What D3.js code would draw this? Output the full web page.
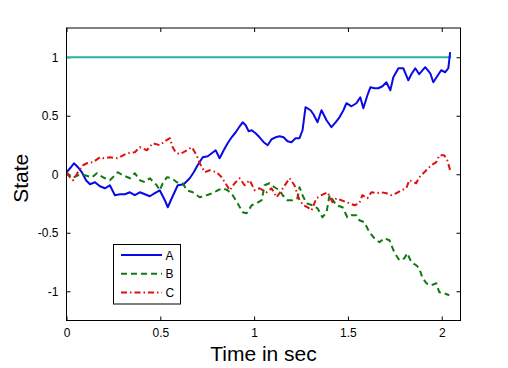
<!DOCTYPE html>
<html>
<head>
<meta charset="utf-8">
<script src="https://cdn.jsdelivr.net/npm/d3@7"></script>
<style>
  html, body { margin: 0; padding: 0; background: #ffffff; }
  svg { display: block; font-family: "Liberation Sans", Arial, sans-serif; }
</style>
</head>
<body>
<svg id="chart" width="508" height="368"></svg>
<script>
// ---- data ----
const seriesNames = ["A", "B", "C"];
const xTicks = [0, 0.5, 1, 1.5, 2];
const yTicks = [-1, -0.5, 0, 0.5, 1];
const xLabel = "Time in sec";
const yLabel = "State";

const tRef = [0, 2.05];
const vRef = [1, 1];

const tA = [0,0.019,0.040,0.061,0.082,0.104,0.125,0.152,0.178,0.205,0.231,0.258,0.285,0.311,0.338,0.364,0.391,0.418,0.444,0.471,0.497,0.524,0.540,0.561,0.593,0.625,0.657,0.678,0.699,0.726,0.753,0.774,0.795,0.816,0.838,0.859,0.880,0.902,0.923,0.939,0.955,0.971,0.987,1.008,1.029,1.051,1.072,1.093,1.114,1.136,1.157,1.178,1.199,1.221,1.242,1.258,1.274,1.301,1.316,1.338,1.359,1.386,1.412,1.434,1.455,1.476,1.492,1.519,1.545,1.566,1.582,1.604,1.620,1.641,1.662,1.684,1.705,1.726,1.742,1.769,1.795,1.822,1.838,1.859,1.880,1.912,1.939,1.955,1.976,1.997,2.019,2.035,2.045];
const vA = [0.017,0.051,0.094,0.060,0.017,-0.051,-0.085,-0.068,-0.103,-0.120,-0.094,-0.179,-0.171,-0.171,-0.154,-0.179,-0.154,-0.171,-0.188,-0.162,-0.137,-0.222,-0.282,-0.205,-0.094,-0.085,-0.034,0.017,0.077,0.145,0.154,0.179,0.205,0.137,0.205,0.265,0.316,0.359,0.410,0.444,0.419,0.368,0.376,0.350,0.316,0.274,0.248,0.299,0.316,0.325,0.316,0.282,0.274,0.308,0.308,0.376,0.573,0.547,0.513,0.444,0.547,0.462,0.402,0.444,0.487,0.547,0.607,0.581,0.607,0.658,0.564,0.675,0.744,0.735,0.735,0.752,0.786,0.718,0.829,0.906,0.906,0.803,0.855,0.906,0.855,0.915,0.863,0.786,0.838,0.889,0.872,0.906,1.043];

const tB = [0,0.029,0.061,0.098,0.136,0.162,0.194,0.231,0.258,0.274,0.301,0.338,0.364,0.391,0.418,0.444,0.481,0.497,0.513,0.535,0.561,0.588,0.620,0.641,0.673,0.710,0.747,0.779,0.806,0.832,0.859,0.886,0.912,0.939,0.960,0.987,1.013,1.040,1.056,1.082,1.109,1.136,1.152,1.178,1.205,1.231,1.242,1.258,1.279,1.311,1.338,1.364,1.386,1.402,1.439,1.471,1.497,1.519,1.545,1.561,1.588,1.614,1.641,1.668,1.694,1.721,1.747,1.774,1.801,1.816,1.838,1.864,1.880,1.896,1.918,1.944,1.971,1.987,2.013,2.040];
const vB = [0.017,-0.034,-0.009,-0.009,-0.026,0.009,-0.026,-0.051,-0.009,0.017,-0.009,-0.034,0.009,-0.051,-0.068,-0.034,-0.094,-0.137,-0.077,-0.026,-0.034,-0.068,-0.077,-0.137,-0.154,-0.197,-0.179,-0.162,-0.137,-0.120,-0.137,-0.179,-0.248,-0.325,-0.333,-0.265,-0.248,-0.222,-0.094,-0.077,-0.111,-0.137,-0.179,-0.222,-0.222,-0.205,-0.111,-0.179,-0.248,-0.265,-0.291,-0.368,-0.325,-0.179,-0.265,-0.282,-0.368,-0.350,-0.350,-0.393,-0.410,-0.496,-0.547,-0.581,-0.547,-0.564,-0.667,-0.735,-0.718,-0.675,-0.752,-0.778,-0.803,-0.880,-0.932,-0.949,-0.932,-1.009,-1.017,-1.034];

const tC = [0,0.019,0.035,0.061,0.088,0.109,0.141,0.178,0.194,0.231,0.274,0.322,0.364,0.391,0.428,0.460,0.497,0.524,0.551,0.566,0.582,0.604,0.641,0.668,0.694,0.710,0.737,0.763,0.801,0.827,0.854,0.870,0.896,0.923,0.949,0.976,1.003,1.029,1.066,1.093,1.120,1.146,1.189,1.215,1.242,1.263,1.285,1.306,1.332,1.359,1.391,1.418,1.439,1.465,1.492,1.535,1.561,1.577,1.604,1.625,1.652,1.678,1.705,1.731,1.758,1.785,1.811,1.827,1.864,1.880,1.907,1.944,1.971,1.987,2.013,2.029,2.045];
const vC = [0.009,-0.026,-0.051,0.017,0.077,0.094,0.103,0.145,0.137,0.145,0.137,0.179,0.188,0.231,0.205,0.265,0.248,0.282,0.308,0.231,0.188,0.171,0.205,0.231,0.162,0.094,0.017,0.034,0.017,-0.026,-0.094,-0.137,-0.077,-0.034,-0.094,-0.051,-0.137,-0.120,-0.154,-0.120,-0.197,-0.137,-0.034,-0.094,-0.222,-0.265,-0.282,-0.308,-0.205,-0.179,-0.154,-0.239,-0.205,-0.222,-0.239,-0.265,-0.248,-0.179,-0.205,-0.154,-0.162,-0.154,-0.162,-0.179,-0.162,-0.137,-0.120,-0.051,-0.077,-0.026,0.017,0.077,0.103,0.162,0.162,0.120,0.034];

// ---- styling ----
const colors = { ref: "#22b4a8", A: "#0a0ae6", B: "#107a10", C: "#e01010" };
const dashes = { A: null, B: "6,4", C: "6,3,1.5,3" };

const svg = d3.select("#chart");
const W = 508, H = 368;
const m = { left: 66.5, right: 47.5, top: 28, bottom: 47.5 };

const x = d3.scaleLinear().domain([0, 2.1]).range([m.left, W - m.right]);
const y = d3.scaleLinear().domain([-1.25, 1.25]).range([H - m.bottom, m.top]);

svg.append("rect").attr("width", W).attr("height", H).attr("fill", "#ffffff");

// plot background
svg.append("rect")
  .attr("x", x(0)).attr("y", y(1.25))
  .attr("width", x(2.1) - x(0)).attr("height", y(-1.25) - y(1.25))
  .attr("fill", "#ffffff");

const fmt = d => String(d);

// axes with inward ticks on all four sides
const gB = svg.append("g").attr("transform", `translate(0,${y(-1.25)})`)
  .call(d3.axisBottom(x).tickValues(xTicks).tickSizeInner(-4).tickSizeOuter(0).tickPadding(8).tickFormat(fmt));
const gT = svg.append("g").attr("transform", `translate(0,${y(1.25)})`)
  .call(d3.axisTop(x).tickValues(xTicks).tickSizeInner(-4).tickSizeOuter(0).tickFormat(""));
const gL = svg.append("g").attr("transform", `translate(${x(0)},0)`)
  .call(d3.axisLeft(y).tickValues(yTicks).tickSizeInner(-4).tickSizeOuter(0).tickPadding(8).tickFormat(fmt));
const gR = svg.append("g").attr("transform", `translate(${x(2.1)},0)`)
  .call(d3.axisRight(y).tickValues(yTicks).tickSizeInner(-4).tickSizeOuter(0).tickFormat(""));

[gB, gT, gL, gR].forEach(g => {
  g.select(".domain").remove();
  g.selectAll(".tick line").attr("stroke", "#000").attr("stroke-width", 1);
  g.selectAll(".tick text").attr("fill", "#000").style("font-size", "12px")
    .style("font-family", "'Liberation Sans', Arial, sans-serif");
});

// lines
const line = d3.line().x(d => x(d[0])).y(d => y(d[1]));
const zip = (t, v) => t.map((ti, i) => [ti, v[i]]);

svg.append("path").datum(zip(tRef, vRef))
  .attr("d", line).attr("fill", "none")
  .attr("stroke", colors.ref).attr("stroke-width", 2);

const series = [
  { name: seriesNames[0], data: zip(tA, vA) },
  { name: seriesNames[1], data: zip(tB, vB) },
  { name: seriesNames[2], data: zip(tC, vC) }
];

series.forEach(s => {
  svg.append("path").datum(s.data)
    .attr("d", line).attr("fill", "none")
    .attr("stroke", colors[s.name]).attr("stroke-width", 2)
    .attr("stroke-linejoin", "round")
    .attr("stroke-dasharray", dashes[s.name]);
});

// box
svg.append("rect")
  .attr("x", x(0)).attr("y", y(1.25))
  .attr("width", x(2.1) - x(0)).attr("height", y(-1.25) - y(1.25))
  .attr("fill", "none").attr("stroke", "#000").attr("stroke-width", 1);

// axis labels
svg.append("text")
  .attr("x", (x(0) + x(2.1)) / 2).attr("y", 361)
  .attr("text-anchor", "middle").style("font-size", "21px").attr("fill", "#000")
  .text(xLabel);

svg.append("text")
  .attr("transform", `translate(28,${(y(-1.25) + y(1.25)) / 2 + 4}) rotate(-90)`)
  .attr("text-anchor", "middle").style("font-size", "21px").attr("fill", "#000")
  .text(yLabel);

// legend
const lg = svg.append("g").attr("transform", "translate(113.5,244.5)");
lg.append("rect").attr("width", 67).attr("height", 59.5)
  .attr("fill", "#fff").attr("stroke", "#000").attr("stroke-width", 1);
series.forEach((s, i) => {
  const yy = 10.5 + i * 18.8;
  lg.append("line").attr("x1", 7.5).attr("x2", 48.5).attr("y1", yy).attr("y2", yy)
    .attr("stroke", colors[s.name]).attr("stroke-width", 2)
    .attr("stroke-dasharray", dashes[s.name]);
  lg.append("text").attr("x", 52).attr("y", yy + 4.5)
    .style("font-size", "12px").attr("fill", "#000").text(s.name);
});
</script>
</body>
</html>
